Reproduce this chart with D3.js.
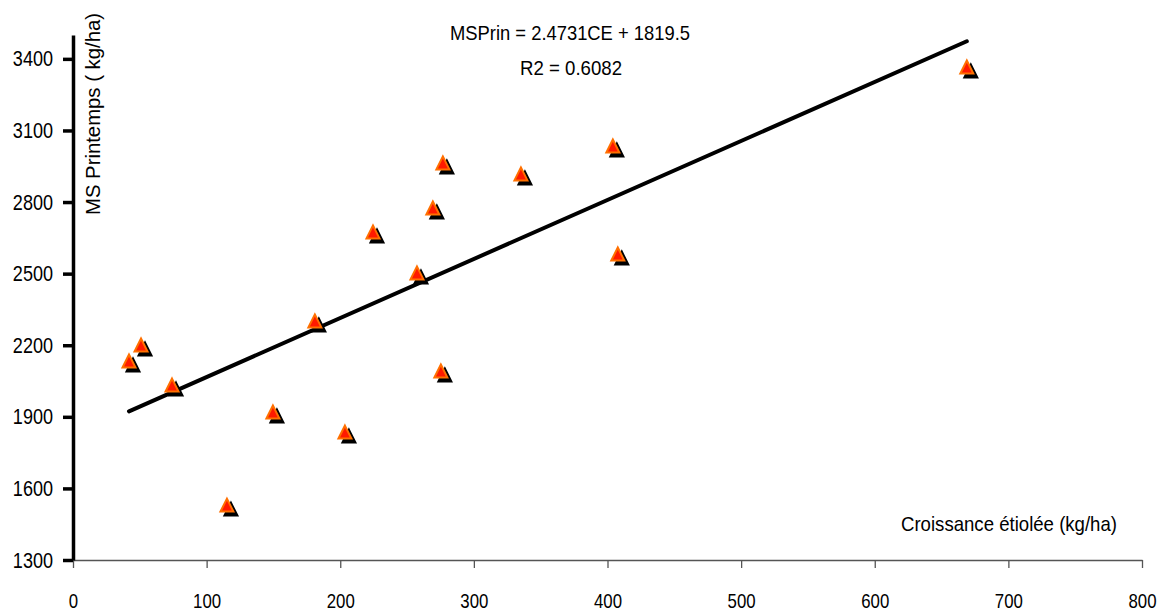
<!DOCTYPE html>
<html>
<head>
<meta charset="utf-8">
<script src="https://cdn.jsdelivr.net/npm/d3@7"></script>
<style>
  html, body { margin: 0; padding: 0; background: #ffffff; }
  svg { display: block; }
  text { font-family: "Liberation Sans", Arial, sans-serif; fill: #000; }
</style>
</head>
<body>
<svg id="chart" width="1166" height="612"></svg>
<script>
// Etiolated growth (kg/ha) vs spring dry matter (kg/ha)
const croissanceEtiolee = [41.9, 50.9, 74.1, 115.2, 149.6, 181.0, 203.5, 224.5, 257.4, 269.3, 275.3, 276.8, 335.2, 404.0, 407.7, 668.9];
const msPrintemps      = [2134, 2201, 2033, 1530, 1920, 2302, 1836, 2675, 2503, 2775, 2092, 2964, 2918, 3035, 2582, 3366];

// Linear fit shown on the chart
const slope = 2.4731;
const intercept = 1819.5;
const r2 = 0.6082;

const xTicks = [0, 100, 200, 300, 400, 500, 600, 700, 800];
const yTicks = [1300, 1600, 1900, 2200, 2500, 2800, 3100, 3400];

const svg = d3.select("#chart");

// Condense text horizontally to a narrow face
function condense(sel, f) {
  sel.each(function () {
    const w = this.getComputedTextLength();
    d3.select(this).attr("textLength", w * f).attr("lengthAdjust", "spacingAndGlyphs");
  });
}
function fitTo(sel, len) {
  sel.attr("textLength", len).attr("lengthAdjust", "spacingAndGlyphs");
}

const x = d3.scaleLinear().domain([0, 800]).range([73, 1142]);
const y = d3.scaleLinear().domain([1300, 3500]).range([560, 35]);

// X axis: thin line, ticks pointing down
const xAxis = svg.append("g").attr("transform", `translate(0,${y(1300)})`)
  .call(d3.axisBottom(x).tickValues(xTicks).tickFormat(d3.format("d"))
    .tickSize(8).tickSizeOuter(0).tickPadding(25));
xAxis.select(".domain").attr("stroke", "#555").attr("stroke-width", 1.3);
xAxis.selectAll(".tick line").attr("stroke", "#555").attr("stroke-width", 1.3);
xAxis.selectAll(".tick text").attr("font-size", 21).attr("fill", "#000")
  .style("font-family", '"Liberation Sans", Arial, sans-serif');
condense(xAxis.selectAll(".tick text"), 0.8);

// Y axis: thick line, ticks pointing left
const yAxis = svg.append("g").attr("transform", `translate(${x(0)},0)`)
  .call(d3.axisLeft(y).tickValues(yTicks).tickFormat(d3.format("d"))
    .tickSize(10).tickSizeOuter(0).tickPadding(10));
yAxis.select(".domain").attr("stroke", "#000").attr("stroke-width", 3.5);
yAxis.selectAll(".tick line").attr("stroke", "#000").attr("stroke-width", 3.5);
yAxis.selectAll(".tick text").attr("font-size", 22).attr("fill", "#000")
  .style("font-family", '"Liberation Sans", Arial, sans-serif');
condense(yAxis.selectAll(".tick text"), 0.82);

// Axis titles
svg.append("text")
  .attr("transform", `translate(100,215) rotate(-90)`)
  .attr("text-anchor", "start")
  .attr("font-size", 21)
  .text("MS Printemps ( kg/ha)")
  .call(fitTo, 202);

svg.append("text")
  .attr("x", 1117).attr("y", 531)
  .attr("text-anchor", "end")
  .attr("font-size", 21)
  .text("Croissance étiolée (kg/ha)")
  .call(fitTo, 216);

// Regression line over the data range
const [xMin, xMax] = d3.extent(croissanceEtiolee);
svg.append("line")
  .attr("x1", x(xMin)).attr("y1", y(slope * xMin + intercept))
  .attr("x2", x(xMax)).attr("y2", y(slope * xMax + intercept))
  .attr("stroke", "#000").attr("stroke-width", 4).attr("stroke-linecap", "round");

// Equation and R²
svg.append("text")
  .attr("x", 570).attr("y", 40)
  .attr("text-anchor", "middle")
  .attr("font-size", 21)
  .text(`MSPrin = ${slope}CE + ${intercept}`)
  .call(fitTo, 240);
svg.append("text")
  .attr("x", 571).attr("y", 75)
  .attr("text-anchor", "middle")
  .attr("font-size", 21)
  .text(`R2 = ${r2}`)
  .call(fitTo, 102);

// Triangle markers with a dark drop shadow
const tri = "M0,-6.5L6.5,6.5L-6.5,6.5Z";
const pts = croissanceEtiolee.map((v, i) => [v, msPrintemps[i]]);

svg.append("g").selectAll("path")
  .data(pts).join("path")
  .attr("d", tri)
  .attr("transform", d => `translate(${x(d[0]) + 4},${y(d[1]) + 4})`)
  .attr("fill", "#000").attr("stroke", "#000").attr("stroke-width", 2)
  .attr("stroke-linejoin", "miter");

svg.append("g").selectAll("path")
  .data(pts).join("path")
  .attr("d", tri)
  .attr("transform", d => `translate(${x(d[0])},${y(d[1])})`)
  .attr("fill", "#ff1a00").attr("stroke", "#ff7000").attr("stroke-width", 2)
  .attr("stroke-linejoin", "miter");
</script>
</body>
</html>
